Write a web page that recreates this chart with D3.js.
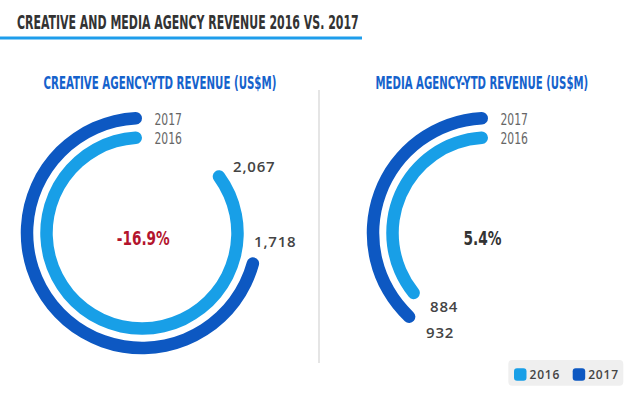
<!DOCTYPE html>
<html>
<head>
<meta charset="utf-8">
<script src="https://cdn.jsdelivr.net/npm/d3@7"></script>
<style>
  body { margin: 0; background: #fff; }
  .narrow { font-family: "DejaVu Sans Condensed", "Liberation Sans Narrow", sans-serif; font-stretch: condensed; }
  .num { font-family: "Open Sans", "Liberation Sans", sans-serif; font-weight: 600; letter-spacing: 0.8px; fill: #444; }
</style>
</head>
<body>
<script>
// Data
var years = ["2016", "2017"];
var panels = ["CREATIVE AGENCY-YTD REVENUE (US$M)", "MEDIA AGENCY-YTD REVENUE (US$M)"];
var revenue2016 = [2067, 884];
var revenue2017 = [1718, 932];
var changeLabels = ["-16.9%", "5.4%"];
var valueLabels2016 = ["2,067", "884"];
var valueLabels2017 = ["1,718", "932"];
var scaleMax = 2400;

var svgWidth = 640;
var svgHeight = 396;

var colors = { "2016": "#189fe7", "2017": "#0d58c2" };

var svg = d3.select("body")
  .append("svg")
  .attr("width", svgWidth)
  .attr("height", svgHeight);

// squeeze a condensed label horizontally so it spans the given width
function fitWidth(sel, x, y, w) {
  var natural = sel.node().getComputedTextLength();
  var k = w / natural;
  sel.attr("x", 0).attr("y", 0)
    .attr("transform", `translate(${x},${y}) scale(${k},1)`);
}

// Header
var header = svg.append("text")
  .attr("class", "narrow")
  .attr("font-size", 20)
  .attr("font-weight", "bold")
  .attr("fill", "#333")
  .text("CREATIVE AND MEDIA AGENCY REVENUE 2016 VS. 2017");
fitWidth(header, 17, 28.7, 342);

svg.append("rect")
  .attr("x", 0)
  .attr("y", 36.5)
  .attr("width", 362)
  .attr("height", 3)
  .attr("fill", "#1e9deb");

// divider between the two panels
svg.append("line")
  .attr("x1", 319).attr("x2", 319)
  .attr("y1", 90).attr("y2", 363)
  .attr("stroke", "#dcdcdc")
  .attr("stroke-width", 1.5);

// angle scale shared by both rings (counter clockwise from the top)
var angle = d3.scaleLinear().domain([0, scaleMax]).range([0, 2 * Math.PI]);

var ringWidth = 12.5;
var radius = { "2016": 95.5, "2017": 115 };

var layout = [
  { cx: 142, cy: 233, titleX: 160, titleW: 233, changeX: 143.3, changeW: 53, changeColor: "#b3142d" },
  { cx: 488, cy: 233, titleX: 482, titleW: 213, changeX: 482.5, changeW: 38, changeColor: "#333" }
];

var valuePos2016 = [{ x: 233, y: 172 }, { x: 430, y: 311.7 }];
var valuePos2017 = [{ x: 254, y: 246.7 }, { x: 426, y: 337.5 }];

panels.forEach(function (title, i) {
  var L = layout[i];
  var g = svg.append("g").attr("transform", `translate(${L.cx},${L.cy})`);

  var sub = svg.append("text")
    .attr("class", "narrow")
    .attr("font-size", 17)
    .attr("font-weight", "bold")
    .attr("fill", "#1562cc")
    .text(title);
  fitWidth(sub, L.titleX - L.titleW / 2, 89.3, L.titleW);

  var vals = { "2016": revenue2016[i], "2017": revenue2017[i] };

  years.forEach(function (yr) {
    var r = radius[yr];
    var arc = d3.arc()
      .innerRadius(r - ringWidth / 2)
      .outerRadius(r + ringWidth / 2)
      .cornerRadius(ringWidth / 2)
      .startAngle(-angle(vals[yr]))
      .endAngle(0);
    g.append("path")
      .attr("d", arc())
      .attr("fill", colors[yr]);

    // year label next to the start of each ring
    var yl = g.append("text")
      .attr("class", "narrow")
      .attr("font-size", 16.5)
      .attr("fill", "#666")
      .text(yr);
    fitWidth(yl, 12.5, -r + 6.5, 27.5);
  });

  var ch = svg.append("text")
    .attr("class", "narrow")
    .attr("font-size", 19)
    .attr("font-weight", "bold")
    .attr("fill", L.changeColor)
    .text(changeLabels[i]);
  fitWidth(ch, L.changeX - L.changeW / 2, 245, L.changeW);

  svg.append("text")
    .attr("class", "num")
    .attr("x", valuePos2016[i].x)
    .attr("y", valuePos2016[i].y)
    .attr("font-size", 15)
    .text(valueLabels2016[i]);

  svg.append("text")
    .attr("class", "num")
    .attr("x", valuePos2017[i].x)
    .attr("y", valuePos2017[i].y)
    .attr("font-size", 15)
    .text(valueLabels2017[i]);
});

// Legend
var legend = svg.append("g");
legend.append("rect")
  .attr("x", 508.3).attr("y", 360)
  .attr("width", 115).attr("height", 25.7)
  .attr("rx", 4)
  .attr("fill", "#efefef");

var legendX = d3.scaleOrdinal().domain(years).range([514, 572.7]);

years.forEach(function (yr) {
  legend.append("rect")
    .attr("x", legendX(yr)).attr("y", 368.3)
    .attr("width", 12.5).attr("height", 12.5)
    .attr("rx", 3)
    .attr("fill", colors[yr]);
  legend.append("text")
    .attr("class", "num")
    .attr("x", legendX(yr) + 15.5)
    .attr("y", 378.6)
    .attr("font-size", 12)
    .attr("letter-spacing", "0.6px")
    .text(yr);
});
</script>
</body>
</html>
